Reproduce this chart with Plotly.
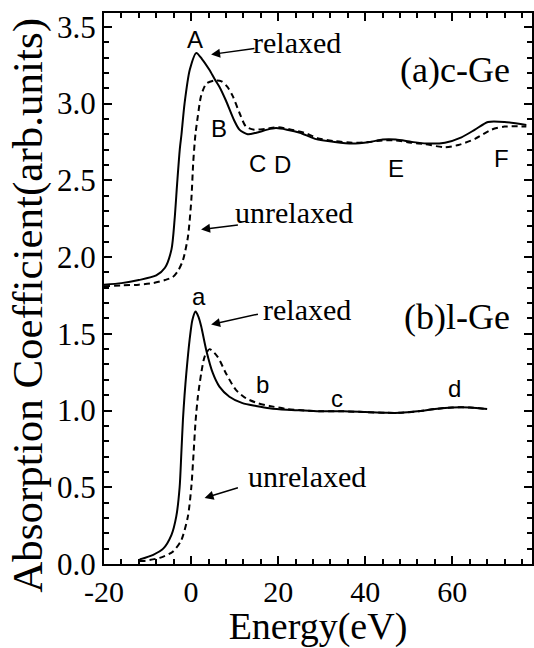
import plotly.graph_objects as go

# ---------------- data ----------------
cge_relaxed_x = [-20, -16, -12, -8, -6, -4.5, -3.8, -3.2, -2.6, -2.2, -1.5, -0.3, 1.2, 2.5, 4.2, 5.4,
                 6.5, 8.0, 9.9, 11.1, 13.0, 15.0, 17.5, 19.5, 22, 25, 28.5, 33, 37, 41, 44, 47,
                 50.7, 54, 58.3, 62.1, 65.2, 68.2, 72, 77]
cge_relaxed_y = [1.82, 1.83, 1.85, 1.88, 1.93, 2.05, 2.24, 2.48, 2.70, 2.80, 3.00, 3.22, 3.33, 3.29, 3.22, 3.16,
                 3.11, 3.02, 2.89, 2.83, 2.80, 2.81, 2.83, 2.84, 2.83, 2.81, 2.77, 2.75, 2.74, 2.75, 2.765, 2.765,
                 2.75, 2.74, 2.745, 2.78, 2.83, 2.88, 2.88, 2.86]

cge_unrelaxed_x = [-20, -16, -12, -8.7, -6, -4.2, -3, -1.86, -0.73, 0.05, 0.5, 1.0, 1.56, 2.3, 3.5, 5.3,
                   7.0, 8.3, 9.55, 11.1, 12.6, 14.5, 17, 20, 23, 26, 29, 33, 37, 41, 44, 47,
                   50.5, 53.8, 58.3, 61.4, 65.2, 69, 72, 77]
cge_unrelaxed_y = [1.81, 1.815, 1.82, 1.83, 1.85, 1.87, 1.91, 1.98, 2.13, 2.37, 2.62, 2.80, 2.92, 3.05, 3.13, 3.15,
                   3.145, 3.11, 3.05, 2.94, 2.85, 2.83, 2.835, 2.845, 2.83, 2.81, 2.775, 2.755, 2.745, 2.75, 2.76, 2.76,
                   2.745, 2.735, 2.715, 2.73, 2.77, 2.83, 2.85, 2.85]

lge_relaxed_x = [-11.8, -8.7, -6.4, -4.5, -3.4, -2.63, -2.24, -1.87, -1.5, -1.1, -0.34, 0.3, 1.03, 1.7,
                 2.33, 3.47, 5.0, 6.5, 8.8, 11.8, 14.9, 18, 22, 26, 30, 35, 40, 45, 48, 52, 56, 60, 64, 68]
lge_relaxed_y = [0.03, 0.06, 0.10, 0.19, 0.31, 0.50, 0.72, 0.94, 1.10, 1.24, 1.46, 1.59, 1.645, 1.61,
                 1.547, 1.395, 1.243, 1.156, 1.09, 1.048, 1.03, 1.015, 1.005, 1.0, 0.995, 0.995, 0.99, 0.985, 0.985, 0.995, 1.01, 1.02, 1.02, 1.01]

lge_unrelaxed_x = [-11.8, -11.0, -7.2, -4.2, -2.24, -0.73, 0.05, 0.57, 1.03, 1.56, 2.33, 3.1, 4.23, 6.1,
                   8.0, 10.3, 12.6, 15.3, 18, 22, 26, 30, 35, 40, 45, 48, 52, 56, 60, 64, 68]
lge_unrelaxed_y = [0.02, 0.02, 0.04, 0.08, 0.156, 0.31, 0.50, 0.72, 0.93, 1.09, 1.243, 1.35, 1.40, 1.35,
                   1.243, 1.134, 1.08, 1.048, 1.03, 1.01, 1.0, 0.995, 0.995, 0.99, 0.985, 0.985, 0.995, 1.01, 1.02, 1.02, 1.01]

x_tick_vals = [-20, 0, 20, 40, 60]
x_tick_text = ["-20", "0", "20", "40", "60"]
y_tick_vals = [0.0, 0.5, 1.0, 1.5, 2.0, 2.5, 3.0, 3.5]
y_tick_text = ["0.0", "0.5", "1.0", "1.5", "2.0", "2.5", "3.0", "3.5"]
x_minor_step, y_minor_step = 4, 0.1

x_title = "Energy(eV)"
y_title = "Absorption Coefficient(arb.units)"

# peak labels (text, x, y)
peak_labels = [("A", 0.8, 3.42), ("B", 6.5, 2.84), ("C", 15.3, 2.61), ("D", 21.0, 2.60),
               ("E", 47.0, 2.58), ("F", 71.3, 2.64),
               ("a", 1.9, 1.74), ("b", 16.4, 1.167), ("c", 33.6, 1.08), ("d", 60.6, 1.145)]
# arrow labels (text, text x, text y, tail x, tail y, head x, head y)
arrow_labels = [("relaxed", 24.3, 3.40, 14.9, 3.36, 4.6, 3.32),
                ("unrelaxed", 23.7, 2.29, 11.1, 2.21, 2.3, 2.18),
                ("relaxed", 26.7, 1.656, 15.7, 1.63, 4.6, 1.56),
                ("unrelaxed", 26.7, 0.57, 11.1, 0.50, 3.1, 0.43)]
panel_labels = [("(a)c-Ge", 60.5, 3.22), ("(b)l-Ge", 61.0, 1.61)]

SERIF = "Liberation Serif"
SANS = "Liberation Sans"

fig = go.Figure()
for xs, ys, dash in [(cge_relaxed_x, cge_relaxed_y, "solid"),
                     (cge_unrelaxed_x, cge_unrelaxed_y, "6px,4px"),
                     (lge_relaxed_x, lge_relaxed_y, "solid"),
                     (lge_unrelaxed_x, lge_unrelaxed_y, "6px,4px")]:
    fig.add_trace(go.Scatter(x=xs, y=ys, mode="lines",
                             line=dict(color="black", width=2, dash=dash, shape="spline", smoothing=0.7),
                             showlegend=False, hoverinfo="skip"))

annotations = []
for t, x, y in peak_labels:
    annotations.append(dict(x=x, y=y, text=t, showarrow=False, xref="x", yref="y",
                            font=dict(family=SANS, size=24, color="black")))
for t, tx, ty, ax_, ay_, hx, hy in arrow_labels:
    annotations.append(dict(x=tx, y=ty, text=t, showarrow=False, xref="x", yref="y",
                            font=dict(family=SERIF, size=30, color="black")))
    annotations.append(dict(x=hx, y=hy, ax=ax_, ay=ay_, axref="x", ayref="y", xref="x", yref="y",
                            text="", showarrow=True, arrowhead=2, arrowsize=1.2, arrowwidth=1.5,
                            arrowcolor="black"))
for t, x, y in panel_labels:
    annotations.append(dict(x=x, y=y, text=t, showarrow=False, xref="x", yref="y",
                            font=dict(family=SERIF, size=36, color="black")))
# y-axis title placed as rotated text
annotations.append(dict(x=-0.178, y=0.47, xref="paper", yref="paper", text=y_title,
                        textangle=-90, showarrow=False, xanchor="center", yanchor="middle",
                        font=dict(family=SERIF, size=43, color="black")))

fig.update_layout(
    width=534, height=648,
    margin=dict(l=104, r=0, t=13, b=84),
    paper_bgcolor="white", plot_bgcolor="white",
    font=dict(family=SERIF, color="black"),
    annotations=annotations,
    xaxis=dict(range=[-20, 78.3], tickvals=x_tick_vals, ticktext=x_tick_text,
               ticks="inside", ticklen=8, tickwidth=1.5, tickcolor="black",
               showline=True, linewidth=2, linecolor="black", mirror="allticks",
               showgrid=False, zeroline=False,
               minor=dict(dtick=x_minor_step, tick0=-20, ticks="inside", ticklen=5, tickwidth=1.5,
                          tickcolor="black", showgrid=False),
               tickfont=dict(family=SERIF, size=30, color="black"),
               title=dict(text=x_title, font=dict(family=SERIF, size=38, color="black"), standoff=4)),
    yaxis=dict(range=[0, 3.59], tickvals=y_tick_vals, ticktext=y_tick_text,
               ticks="inside", ticklen=8, tickwidth=1.5, tickcolor="black",
               showline=True, linewidth=2, linecolor="black", mirror="allticks",
               showgrid=False, zeroline=False,
               minor=dict(dtick=y_minor_step, tick0=0, ticks="inside", ticklen=5, tickwidth=1.5,
                          tickcolor="black", showgrid=False),
               tickfont=dict(family=SERIF, size=31, color="black")),
)

fig.write_html("out.html")
